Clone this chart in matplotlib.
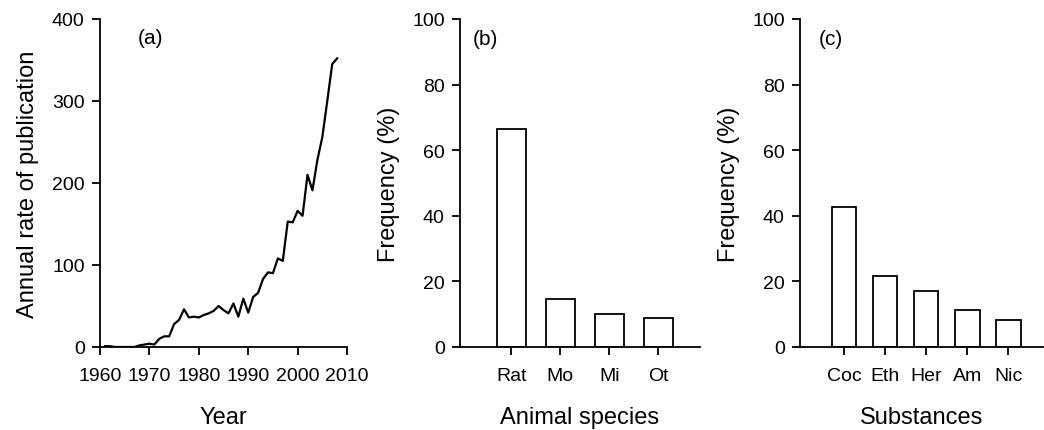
import numpy as np
import matplotlib
matplotlib.use('Agg')
from matplotlib import pyplot as plt

plt.rcParams['font.family'] = ['Liberation Sans', 'DejaVu Sans']

# panel (a) - publications per year
years = list(range(1961, 2009))
pubs = [1, 1, 0, 0, 0, 0, 0, 2, 3, 4, 3, 10, 13, 13, 28, 33, 46, 36, 37, 36,
        39, 41, 44, 50, 45, 41, 53, 37, 59, 42, 61, 66, 83, 91, 90, 108, 105,
        153, 152, 166, 160, 210, 191, 228, 256, 300, 345, 352]

# panel (b) - animal species
species = ['Rat', 'Mo', 'Mi', 'Ot']
species_freq = [66.5, 14.7, 10.2, 8.7]

# panel (c) - substances
substances = ['Coc', 'Eth', 'Her', 'Am', 'Nic']
subst_freq = [42.7, 21.7, 17.2, 11.3, 8.3]

fig = plt.figure(figsize=(10.44, 4.31), dpi=100)
ax1 = fig.add_axes([0.0958, 0.1926, 0.2366, 0.761])
ax2 = fig.add_axes([0.4406, 0.1926, 0.2299, 0.761])
ax3 = fig.add_axes([0.7663, 0.1926, 0.2330, 0.761])

lw = 1.3
tick_fs = 14
lab_fs = 17
panel_fs = 15

def style(ax):
    for s in ['top', 'right']:
        ax.spines[s].set_visible(False)
    for s in ['left', 'bottom']:
        ax.spines[s].set_linewidth(lw)
    ax.tick_params(direction='out', length=6, width=lw, labelsize=tick_fs)
    ax.tick_params(axis='x', pad=8.5)
    ax.tick_params(axis='y', pad=5)

# (a)
ax1.plot(years, pubs, color='black', lw=1.6)
ax1.set_xlim(1960, 2010)
ax1.set_ylim(0, 400)
ax1.set_xticks([1960, 1970, 1980, 1990, 2000, 2010])
ax1.set_yticks([0, 100, 200, 300, 400])
ax1.set_xlabel('Year', fontsize=lab_fs, labelpad=16)
ax1.set_ylabel('Annual rate of publication', fontsize=lab_fs, labelpad=9)
ax1.text(0.152, 0.945, '(a)', transform=ax1.transAxes, fontsize=panel_fs, va='center', ha='left')
style(ax1)

# (b)
xb = np.arange(1, len(species) + 1)
ax2.bar(xb, species_freq, width=0.6, color='white', edgecolor='black', linewidth=lw)
ax2.set_xlim(-0.05, 4.85)
ax2.set_ylim(0, 100)
ax2.set_xticks(xb)
ax2.set_xticklabels(species)
ax2.set_yticks([0, 20, 40, 60, 80, 100])
ax2.set_xlabel('Animal species', fontsize=lab_fs, labelpad=16)
ax2.set_ylabel('Frequency (%)', fontsize=lab_fs, labelpad=9)
ax2.text(0.054, 0.94, '(b)', transform=ax2.transAxes, fontsize=panel_fs, va='center', ha='left')
style(ax2)

# (c)
xc = np.arange(1, len(substances) + 1)
ax3.bar(xc, subst_freq, width=0.6, color='white', edgecolor='black', linewidth=lw)
ax3.set_xlim(-0.07, 5.85)
ax3.set_ylim(0, 100)
ax3.set_xticks(xc)
ax3.set_xticklabels(substances)
ax3.set_yticks([0, 20, 40, 60, 80, 100])
ax3.set_xlabel('Substances', fontsize=lab_fs, labelpad=16)
ax3.set_ylabel('Frequency (%)', fontsize=lab_fs, labelpad=9)
ax3.text(0.078, 0.94, '(c)', transform=ax3.transAxes, fontsize=panel_fs, va='center', ha='left')
style(ax3)

fig.savefig('out.png', dpi=100)
